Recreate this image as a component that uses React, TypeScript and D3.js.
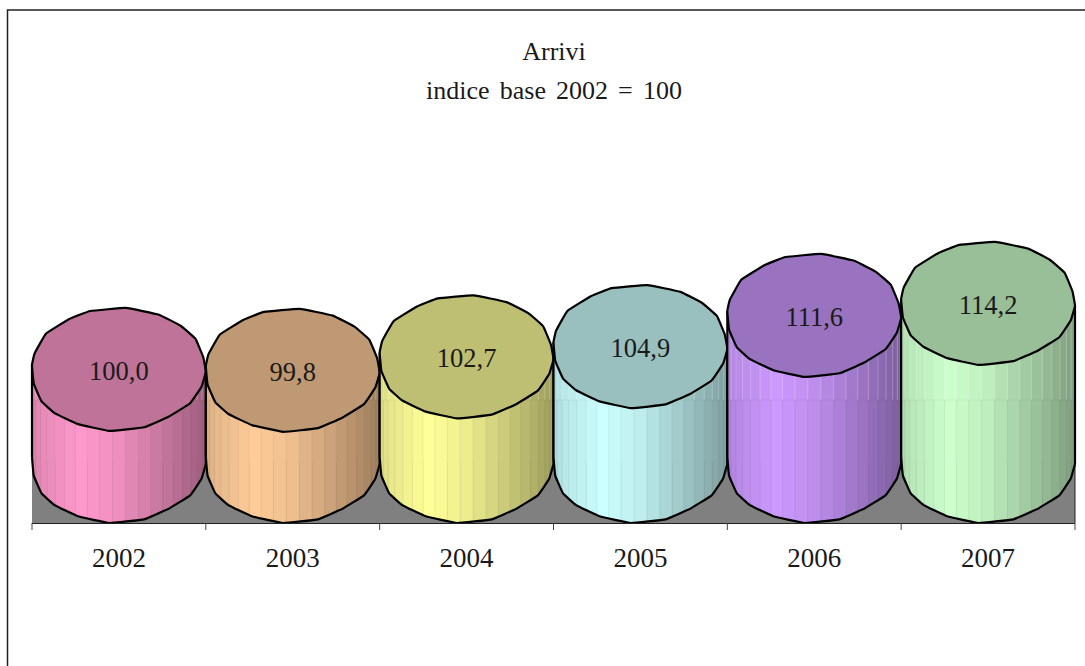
import React from "react";
import * as d3 from "d3";

const years = ["2002", "2003", "2004", "2005", "2006", "2007"];
const values = [100.0, 99.8, 102.7, 104.9, 111.6, 114.2];
const valueLabels = ["100,0", "99,8", "102,7", "104,9", "111,6", "114,2"];
const sideColors = ["#FF99CC", "#FFCC99", "#FFFF99", "#CCFFFF", "#CC99FF", "#CCFFCC"];
const titleLines = ["Arrivi", "indice base 2002 = 100"];
// outline of the faceted cylinder cap, in fractions of the radii, clockwise from the left
const capX = [-1, -0.97, -0.84, -0.57, -0.33, 0.08, 0.46, 0.71, 0.88, 0.97, 1, 0.95, 0.82, 0.57, 0.29, -0.11, -0.47, -0.74, -0.89, -0.98];
const capY = [-0.07, -0.26, -0.58, -0.82, -0.95, -1, -0.89, -0.71, -0.5, -0.2, 0.04, 0.28, 0.55, 0.77, 0.94, 1, 0.89, 0.71, 0.52, 0.23];
const STRIPS = 21;

const W = 1085, H = 666;
const baseY = 523, ry = 61.5;
const x = d3.scaleBand<string>().domain(years).range([32, 1075]).paddingInner(0).paddingOuter(0);
const y = d3.scaleLinear().domain([80.2, 120]).range([baseY - ry, 276.4]);
const shade = d3.scaleLinear<number>().domain([0, 0.05, 0.28, 0.5, 1]).range([0.84, 0.9, 1, 0.93, 0.62]);
const closedLine = d3.line<[number, number]>().curve(d3.curveCardinalClosed.tension(0.75));
const openLine = d3.line<[number, number]>().curve(d3.curveCardinal.tension(0.75));
const font = "'Liberation Serif', serif";
const ink = "#1a1a1a";

function scaleColor(c: string, k: number) {
  const r = d3.rgb(c);
  return d3.rgb(r.r * k, r.g * k, r.b * k).formatHex();
}

function Cylinder({ i }: { i: number }) {
  const x0 = x(years[i]) as number;
  const rx = x.bandwidth() / 2;
  const cx = x0 + rx;
  const top = y(values[i]);
  const bot = baseY - ry;
  const cap = (cy: number) => capX.map((px, k) => [cx + px * rx, cy + capY[k] * ry] as [number, number]);
  const topPts = cap(top);
  const botPts = cap(bot);
  const lower = (pts: [number, number][]) => [...pts.slice(10), pts[0]];
  const edges = d3.range(STRIPS + 1).map((k) => cx - rx * Math.cos((Math.PI * k) / STRIPS));
  const seamBreak = baseY - 2 * ry;
  const clipId = `side-${i}`;
  const base = sideColors[i];
  return (
    <g>
      <clipPath id={clipId}>
        <rect x={x0} y={top} width={rx * 2} height={bot - top} />
        <path d={closedLine(botPts) as string} />
      </clipPath>
      <g clipPath={`url(#${clipId})`}>
        {edges.slice(0, -1).map((e, k) => (
          <rect key={k} x={e} y={top} width={edges[k + 1] - e + 0.5} height={baseY - top}
            fill={scaleColor(base, shade((e + (edges[k + 1] - e) / 2 - x0) / (2 * rx)))} />
        ))}
        {edges.slice(1, -1).map((e, k) => (
          <g key={k}>
            <line x1={e} x2={e} y1={top} y2={seamBreak} stroke="#fff" strokeOpacity={0.22} />
            <line x1={e} x2={e} y1={seamBreak} y2={baseY} stroke="#000" strokeOpacity={0.06} />
          </g>
        ))}
        <line x1={x0} x2={x0 + 2 * rx} y1={seamBreak} y2={seamBreak} stroke="#000" strokeOpacity={0.05} />
      </g>
      <path d={openLine(lower(botPts)) as string} fill="none" stroke="#000" strokeWidth={2.2} strokeLinejoin="round" />
      <line x1={cx - rx} x2={cx - rx} y1={topPts[0][1]} y2={botPts[0][1]} stroke="#000" strokeWidth={2.2} />
      <line x1={cx + rx} x2={cx + rx} y1={topPts[10][1]} y2={botPts[10][1]} stroke="#000" strokeWidth={2.2} />
      <path d={closedLine(topPts) as string} fill={scaleColor(base, 0.75)} stroke="#000" strokeWidth={2.2} strokeLinejoin="round" />
      <text x={cx} y={top + 10.5} textAnchor="middle" fontFamily={font} fontSize={26.5} fill={ink}>{valueLabels[i]}</text>
    </g>
  );
}

export default function App() {
  const [x1, x2] = x.range();
  const ticks = [...years.map((d) => x(d) as number), x2];
  return (
    <svg width={W} height={H} style={{ position: "absolute", left: 0, top: 0, background: "#fff" }}>
      <path d={`M7.5,${H}V10H${W}`} fill="none" stroke="#222" strokeWidth={1.5} />
      {titleLines.map((t, i) => (
        <text key={t} x={554} y={60 + i * 38.5} textAnchor="middle" fontFamily={font} fontSize={26} wordSpacing={i ? 3.6 : 0} fill={ink}>{t}</text>
      ))}
      <rect x={x1} y={baseY - ry} width={x2 - x1} height={ry} fill="#808080" />
      <line x1={x2} x2={x2} y1={baseY - ry} y2={baseY} stroke="#222" />
      {years.map((_, i) => <Cylinder key={i} i={i} />)}
      <line x1={x1} x2={x2} y1={baseY + 0.5} y2={baseY + 0.5} stroke="#222" strokeWidth={1} />
      {ticks.map((t) => (
        <line key={t} x1={t} x2={t} y1={baseY} y2={baseY + 7} stroke="#444" strokeWidth={1} />
      ))}
      {years.map((d) => (
        <text key={d} x={(x(d) as number) + x.bandwidth() / 2} y={567} textAnchor="middle" fontFamily={font} fontSize={27} fill={ink}>{d}</text>
      ))}
    </svg>
  );
}
